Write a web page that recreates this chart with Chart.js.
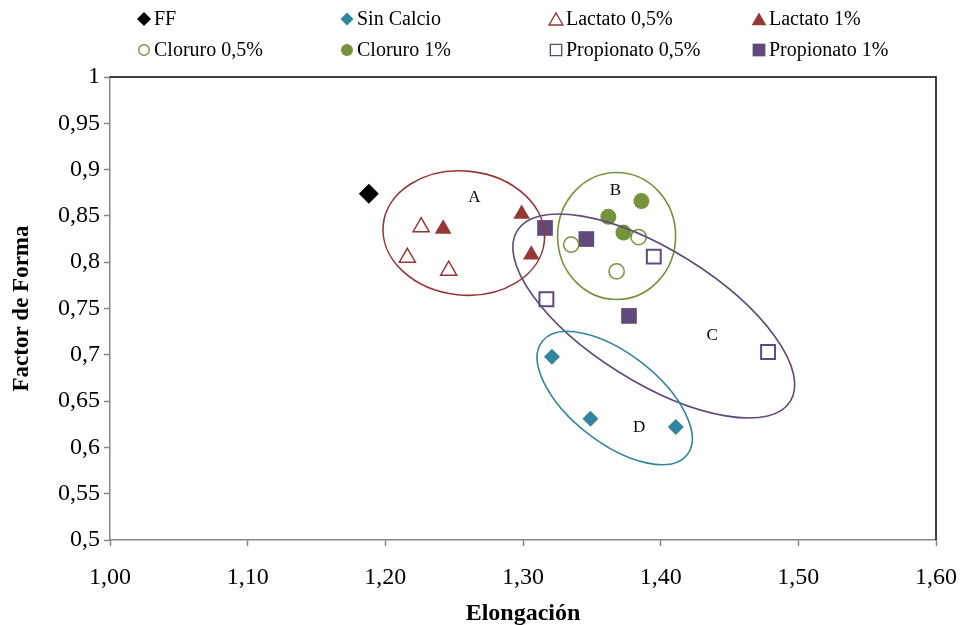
<!DOCTYPE html>
<html lang="es">
<head>
<meta charset="utf-8">
<title>Factor de Forma vs Elongación</title>
<script src="https://cdn.jsdelivr.net/npm/chart.js@4.4.1/dist/chart.umd.min.js"></script>
<style>
  html, body { margin: 0; padding: 0; background: #ffffff; }
  #wrap { width: 962px; height: 625px; position: relative; }
</style>
</head>
<body>
<div id="wrap"><canvas id="chart" width="962" height="625"></canvas></div>
<script>
// Tick labels (Spanish decimal comma)
const xTickLabels = ['1,00', '1,10', '1,20', '1,30', '1,40', '1,50', '1,60'];
const yTickLabels = ['0,5', '0,55', '0,6', '0,65', '0,7', '0,75', '0,8', '0,85', '0,9', '0,95', '1'];

// Series: elongación (x) and factor de forma (y)
const ffElong = [1.188];
const ffForma = [0.874];
const sinCalcioElong = [1.321, 1.349, 1.411];
const sinCalcioForma = [0.698, 0.631, 0.622];
const lactato05Elong = [1.226, 1.216, 1.246];
const lactato05Forma = [0.838, 0.805, 0.791];
const lactato1Elong = [1.242, 1.299, 1.306];
const lactato1Forma = [0.836, 0.852, 0.808];
const cloruro05Elong = [1.335, 1.384, 1.368];
const cloruro05Forma = [0.819, 0.827, 0.790];
const cloruro1Elong = [1.362, 1.386, 1.373];
const cloruro1Forma = [0.849, 0.866, 0.832];
const propionato05Elong = [1.395, 1.317, 1.478];
const propionato05Forma = [0.806, 0.760, 0.703];
const propionato1Elong = [1.316, 1.346, 1.377];
const propionato1Forma = [0.837, 0.825, 0.742];

const toPoints = (xs, ys) => xs.map((x, i) => ({ x: x, y: ys[i] }));

const FONT = "'Liberation Serif', 'Times New Roman', serif";
const RED = '#953735';
const GREEN = '#77933C';
const PURPLE = '#604A7B';
const TEAL = '#31859C';

// Group outlines drawn over the plot (centre in axis units, radii in px)
const groupRings = [
  { label: 'A', color: RED,    cx: 1.257, cy: 0.8315, rx: 81,  ry: 62,   rot: 6,  tx: 1.2646, ty: 0.8693 },
  { label: 'B', color: GREEN,  cx: 1.368, cy: 0.8283, rx: 59,  ry: 63.5, rot: 0,  tx: 1.3671, ty: 0.8769 },
  { label: 'C', color: PURPLE, cx: 1.395, cy: 0.7419, rx: 161, ry: 66,   rot: 32, tx: 1.4374, ty: 0.7203 },
  { label: 'D', color: TEAL,   cx: 1.3666, cy: 0.6533, rx: 92, ry: 44.5, rot: 38, tx: 1.3844, ty: 0.6210 }
];

function ds(label, xs, ys, style, radius, fill, stroke, bw, legendRadius) {
  return {
    label: label,
    data: toPoints(xs, ys),
    pointStyle: style,
    pointRadius: radius,
    pointHoverRadius: radius,
    backgroundColor: fill,
    borderColor: stroke,
    borderWidth: bw,
    legendRadius: legendRadius
  };
}

const datasets = [
  ds('FF', ffElong, ffForma, 'rectRot', 10, '#000000', '#000000', 0, 7),
  ds('Sin Calcio', sinCalcioElong, sinCalcioForma, 'rectRot', 8, TEAL, TEAL, 0, 6.5),
  ds('Lactato 0,5%', lactato05Elong, lactato05Forma, 'triangle', 9.3, '#ffffff', RED, 1.5, 8),
  ds('Lactato 1%', lactato1Elong, lactato1Forma, 'triangle', 9.6, RED, RED, 0, 8.5),
  ds('Cloruro 0,5%', cloruro05Elong, cloruro05Forma, 'circle', 7.6, '#ffffff', GREEN, 1.5, 5.3),
  ds('Cloruro 1%', cloruro1Elong, cloruro1Forma, 'circle', 8, GREEN, GREEN, 0, 6),
  ds('Propionato 0,5%', propionato05Elong, propionato05Forma, 'rect', 9.8, '#ffffff', PURPLE, 2, 8),
  ds('Propionato 1%', propionato1Elong, propionato1Forma, 'rect', 11.1, PURPLE, PURPLE, 0, 9)
];

// Simple marker painter for the legend
function paintMarker(ctx, style, x, y, r, fill, stroke, bw) {
  ctx.beginPath();
  if (style === 'circle') {
    ctx.arc(x, y, r, 0, Math.PI * 2);
  } else if (style === 'rectRot') {
    ctx.moveTo(x - r, y); ctx.lineTo(x, y - r); ctx.lineTo(x + r, y); ctx.lineTo(x, y + r);
    ctx.closePath();
  } else if (style === 'rect') {
    const s = r * Math.SQRT1_2;
    ctx.rect(x - s, y - s, 2 * s, 2 * s);
  } else if (style === 'triangle') {
    const a = 2 * Math.PI / 3;
    ctx.moveTo(x, y - r);
    ctx.lineTo(x + Math.sin(a) * r, y - Math.cos(a) * r);
    ctx.lineTo(x + Math.sin(2 * a) * r, y - Math.cos(2 * a) * r);
    ctx.closePath();
  }
  ctx.fillStyle = fill;
  ctx.fill();
  if (bw > 0) { ctx.lineWidth = bw; ctx.strokeStyle = stroke; ctx.stroke(); }
}

// Four-column legend across the top
const gridLegend = {
  id: 'gridLegend',
  afterDraw(chart) {
    const ctx = chart.ctx;
    const cols = [144, 347, 556, 759];
    const rows = [19, 50];
    ctx.save();
    ctx.font = '20px ' + FONT;
    ctx.textBaseline = 'middle';
    ctx.textAlign = 'left';
    chart.data.datasets.forEach((d, i) => {
      const x = cols[i % 4];
      const y = rows[Math.floor(i / 4)];
      const dy = d.pointStyle === 'triangle' ? 2 : 0;
      paintMarker(ctx, d.pointStyle, x, y + dy, d.legendRadius, d.backgroundColor, d.borderColor, d.borderWidth ? 1.4 : 0);
      ctx.fillStyle = '#000000';
      ctx.fillText(d.label, x + 10, y + 1);
    });
    ctx.restore();
  }
};

// Top/right frame and group ellipses with their letters
const frameAndRings = {
  id: 'frameAndRings',
  afterDatasetsDraw(chart) {
    const { ctx, chartArea: ca, scales } = chart;
    ctx.save();
    ctx.strokeStyle = '#000000';
    ctx.lineWidth = 1.5;
    ctx.beginPath();
    ctx.moveTo(ca.left, ca.top);
    ctx.lineTo(ca.right, ca.top);
    ctx.lineTo(ca.right, ca.bottom);
    ctx.stroke();

    groupRings.forEach(g => {
      const px = scales.x.getPixelForValue(g.cx);
      const py = scales.y.getPixelForValue(g.cy);
      ctx.beginPath();
      ctx.ellipse(px, py, g.rx, g.ry, g.rot * Math.PI / 180, 0, Math.PI * 2);
      ctx.strokeStyle = g.color;
      ctx.lineWidth = 1.6;
      ctx.stroke();
      ctx.fillStyle = '#000000';
      ctx.font = '17px ' + FONT;
      ctx.textAlign = 'center';
      ctx.textBaseline = 'middle';
      ctx.fillText(g.label, scales.x.getPixelForValue(g.tx), scales.y.getPixelForValue(g.ty));
    });
    ctx.restore();
  }
};

Chart.defaults.font.family = FONT;
Chart.defaults.color = '#000000';

new Chart(document.getElementById('chart'), {
  type: 'scatter',
  data: { datasets: datasets },
  options: {
    responsive: false,
    animation: false,
    devicePixelRatio: 1,
    layout: { padding: { top: 77, right: 26, left: 0, bottom: 0 } },
    plugins: {
      legend: { display: false },
      tooltip: { enabled: false }
    },
    scales: {
      x: {
        type: 'linear',
        min: 1.0,
        max: 1.6,
        afterFit(scale) {
          scale.height = 85;
          scale.paddingLeft = 0;
          scale.paddingRight = 0;
        },
        ticks: {
          stepSize: 0.1,
          padding: 17,
          maxRotation: 0,
          font: { size: 24 },
          color: '#000000',
          callback: (v, i) => xTickLabels[i]
        },
        grid: { drawOnChartArea: false, drawTicks: true, tickLength: 6, tickColor: '#868686', tickWidth: 1.5 },
        border: { color: '#868686', width: 1.5 },
        title: {
          display: true,
          text: 'Elongación',
          font: { size: 24, weight: 'bold', lineHeight: 0.9 },
          color: '#000000',
          padding: { top: 0, bottom: 0 }
        }
      },
      y: {
        type: 'linear',
        min: 0.5,
        max: 1.0,
        afterFit(scale) {
          scale.width = 110;
          scale.paddingTop = 0;
          scale.paddingBottom = 0;
        },
        ticks: {
          stepSize: 0.05,
          padding: 4,
          font: { size: 24 },
          color: '#000000',
          callback: (v, i) => yTickLabels[i]
        },
        grid: { drawOnChartArea: false, drawTicks: true, tickLength: 6, tickColor: '#868686', tickWidth: 1.5 },
        border: { color: '#868686', width: 1.5 },
        title: {
          display: true,
          text: 'Factor de Forma',
          font: { size: 23, weight: 'bold', lineHeight: 1.2 },
          color: '#000000',
          padding: { top: 8, bottom: 0 }
        }
      }
    }
  },
  plugins: [frameAndRings, gridLegend]
});
</script>
</body>
</html>
